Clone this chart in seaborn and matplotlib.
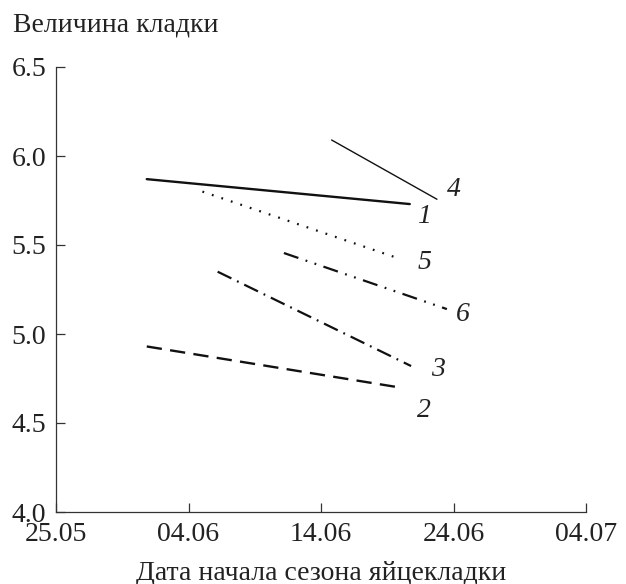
import numpy as np
import pandas as pd
import matplotlib
matplotlib.use("Agg")
import matplotlib.pyplot as plt
import seaborn as sns

# days counted from 25.05 (start of x axis)
series_ids = ["1", "2", "3", "4", "5", "6"]
day_start = [6.85, 6.85, 12.2, 20.8, 11.05, 17.2]
day_end = [26.7, 25.9, 26.8, 28.75, 25.65, 29.5]
size_start = [5.87, 4.93, 5.35, 6.09, 5.80, 5.455]
size_end = [5.73, 4.70, 4.82, 5.757, 5.43, 5.14]

# series number labels placed next to line ends
label_x = [27.8, 27.8, 28.8, 30.0, 27.8, 30.7]
label_y = [5.66, 4.57, 4.80, 5.81, 5.40, 5.11]

tick_days = [0, 10, 20, 30, 40]
tick_labels = ["25.05", "04.06", "14.06", "24.06", "04.07"]
y_ticks = [4.0, 4.5, 5.0, 5.5, 6.0, 6.5]

line_styles = {
    "1": dict(lw=1.7, dashes=""),
    "2": dict(lw=1.7, dashes=(11, 6)),
    "3": dict(lw=1.6, dashes=(11, 4.5, 1.3, 4.5)),
    "4": dict(lw=1.0, dashes=""),
    "5": dict(lw=1.6, dashes=(1.3, 5.9)),
    "6": dict(lw=1.6, dashes=(11, 5.5, 1.3, 5.5, 1.3, 5.5)),
}

sns.set_theme(style="ticks")
plt.rcParams.update({
    "font.family": ["Liberation Serif", "DejaVu Serif"],
    "lines.scale_dashes": False,
    "axes.edgecolor": "#333333",
    "axes.linewidth": 0.9,
    "xtick.color": "#333333",
    "ytick.color": "#333333",
    "xtick.labelcolor": "#222222",
    "ytick.labelcolor": "#222222",
})

df = pd.DataFrame({
    "series": np.repeat(series_ids, 2),
    "day": np.ravel(np.column_stack([day_start, day_end])),
    "size": np.ravel(np.column_stack([size_start, size_end])),
})

fig = plt.figure(figsize=(6.26, 5.84), dpi=100)
ax = fig.add_axes([56 / 626, 1 - 512 / 584, 530 / 626, 445 / 584])

for sid in series_ids:
    sub = df[df["series"] == sid]
    st = line_styles[sid]
    sns.lineplot(data=sub, x="day", y="size", ax=ax, color="#111111",
                 linewidth=st["lw"], estimator=None, sort=False)
    ln = ax.lines[-1]
    if st["dashes"]:
        ln.set_dashes(st["dashes"])
        ln.set_dash_capstyle("butt")

for sid, lx, ly in zip(series_ids, label_x, label_y):
    ax.text(lx, ly, sid, fontsize=20, fontstyle="italic", ha="center",
            va="center", color="#222222")

ax.set_xlim(0, 40)
ax.set_ylim(4.0, 6.5)
ax.set_xticks(tick_days)
ax.set_xticklabels(tick_labels)
ax.set_yticks(y_ticks)
ax.set_yticklabels([f"{v:.1f}" for v in y_ticks])
ax.tick_params(axis="both", direction="in", length=6.5, width=0.9,
               labelsize=20)
ax.tick_params(axis="x", pad=7)
ax.tick_params(axis="y", pad=7)
sns.despine(ax=ax)
ax.set_xlabel("")
ax.set_ylabel("")
fig.text(321 / 626, 1 - 573 / 584, "Дата начала сезона яйцекладки",
         fontsize=20, ha="center", va="center", color="#222222")
fig.text(13 / 626, 1 - 25 / 584, "Величина кладки", fontsize=20,
         ha="left", va="center", color="#222222")

fig.savefig("out.png", dpi=100)
